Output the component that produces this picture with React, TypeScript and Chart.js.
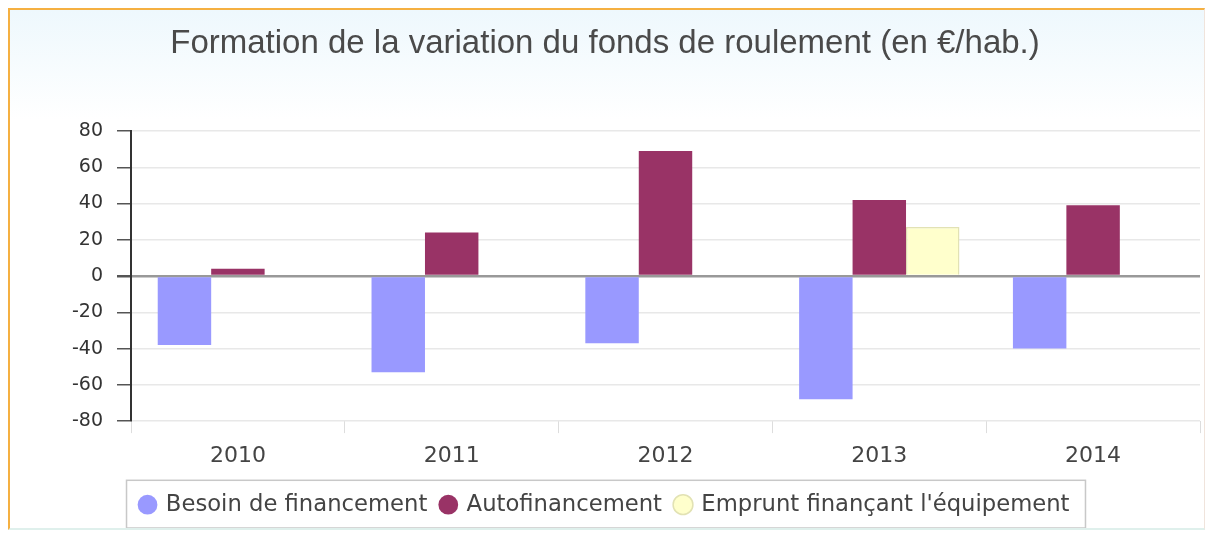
import React, { useEffect, useRef } from "react";
import { Chart, registerables } from "chart.js";

Chart.register(...registerables);

const titleText = "Formation de la variation du fonds de roulement (en €/hab.)";
const categories = ["2010", "2011", "2012", "2013", "2014"];
const besoinFinancement = [-38, -53, -37, -68, -40];
const autofinancement = [4, 24, 69, 42, 39];
const empruntEquipement = [null, null, null, 27, null];
const yMin = -80;
const yMax = 80;
const yStep = 20;

const legendBoxPlugin = {
  id: "legendBox",
  afterDraw(chart: any) {
    const lg = chart.legend;
    if (!lg || !lg.legendHitBoxes || !lg.legendHitBoxes.length) return;
    const boxes = lg.legendHitBoxes;
    let minL = Infinity;
    let maxR = -Infinity;
    let minT = Infinity;
    let maxB = -Infinity;
    for (const b of boxes) {
      minL = Math.min(minL, b.left);
      maxR = Math.max(maxR, b.left + b.width);
      minT = Math.min(minT, b.top);
      maxB = Math.max(maxB, b.top + b.height);
    }
    const ctx = chart.ctx;
    ctx.save();
    ctx.strokeStyle = "#c8c8c8";
    ctx.lineWidth = 1.5;
    ctx.strokeRect(minL - 14, minT - 13, maxR - minL + 30, maxB - minT + 25);
    ctx.restore();
  },
};

export default function App() {
  const ref = useRef<HTMLCanvasElement>(null);
  useEffect(() => {
    if (!ref.current) return;
    const chart = new Chart(ref.current, {
      type: "bar",
      data: {
        labels: categories,
        datasets: [
          {
            label: "Besoin de financement",
            data: besoinFinancement,
            backgroundColor: "#9999FF",
            borderColor: "#9999FF",
            borderWidth: 0,
          },
          {
            label: "Autofinancement",
            data: autofinancement,
            backgroundColor: "#993366",
            borderColor: "#993366",
            borderWidth: 0,
          },
          {
            label: "Emprunt finançant l'équipement",
            data: empruntEquipement as any,
            backgroundColor: "#FFFFCC",
            borderColor: "#E2E2B4",
            borderWidth: 1.5,
          },
        ],
      },
      options: {
        animation: false,
        responsive: false,
        maintainAspectRatio: false,
        layout: { padding: { left: 0, right: 4, top: 0, bottom: 2 } },
        datasets: { bar: { categoryPercentage: 0.75, barPercentage: 1 } },
        plugins: {
          title: {
            display: true,
            text: titleText,
            color: "#4a4a4a",
            font: { family: "Liberation Sans", size: 33, weight: "normal" },
            padding: { top: 14, bottom: 67.4 },
          },
          legend: {
            position: "bottom",
            labels: {
              usePointStyle: true,
              pointStyle: "circle",
              boxWidth: 14,
              boxHeight: 14,
              padding: 14,
              color: "#444",
              font: { family: "DejaVu Sans", size: 22.7 },
            },
          },
          tooltip: { enabled: false },
        },
        scales: {
          x: {
            border: { display: false },
            grid: {
              offset: true,
              drawOnChartArea: false,
              drawTicks: true,
              tickLength: 12,
              tickColor: "#dddddd",
              color: "#dddddd",
            },
            ticks: {
              color: "#444",
              padding: 0,
              font: { family: "DejaVu Sans", size: 22, lineHeight: 2.1 },
            },
          },
          y: {
            min: yMin,
            max: yMax,
            afterFit: (s: any) => {
              s.width = 121;
            },
            border: { display: true, color: "#333", width: 2 },
            grid: {
              color: (c: any) => (c.tick && c.tick.value === 0 ? "#999999" : "#e8e8e8"),
              lineWidth: (c: any) => (c.tick && c.tick.value === 0 ? 2.5 : 1.5),
              tickLength: 14,
              tickColor: "#555",
            },
            ticks: {
              stepSize: yStep,
              color: "#333",
              padding: 14,
              font: { family: "DejaVu Sans", size: 19 },
            },
          },
        },
      },
      plugins: [legendBoxPlugin],
    });
    return () => chart.destroy();
  }, []);

  return (
    <div
      style={{
        width: 1197,
        height: 522,
        boxSizing: "border-box",
        borderTop: "2px solid #F5B041",
        borderLeft: "2px solid #F5B041",
        borderRight: "1px solid #f0e4dc",
        borderBottom: "2px solid #dff0ec",
        background: "linear-gradient(#eef8fd 0px, #ffffff 110px)",
      }}
    >
      <canvas ref={ref} width={1194} height={518} style={{ display: "block" }} />
    </div>
  );
}
